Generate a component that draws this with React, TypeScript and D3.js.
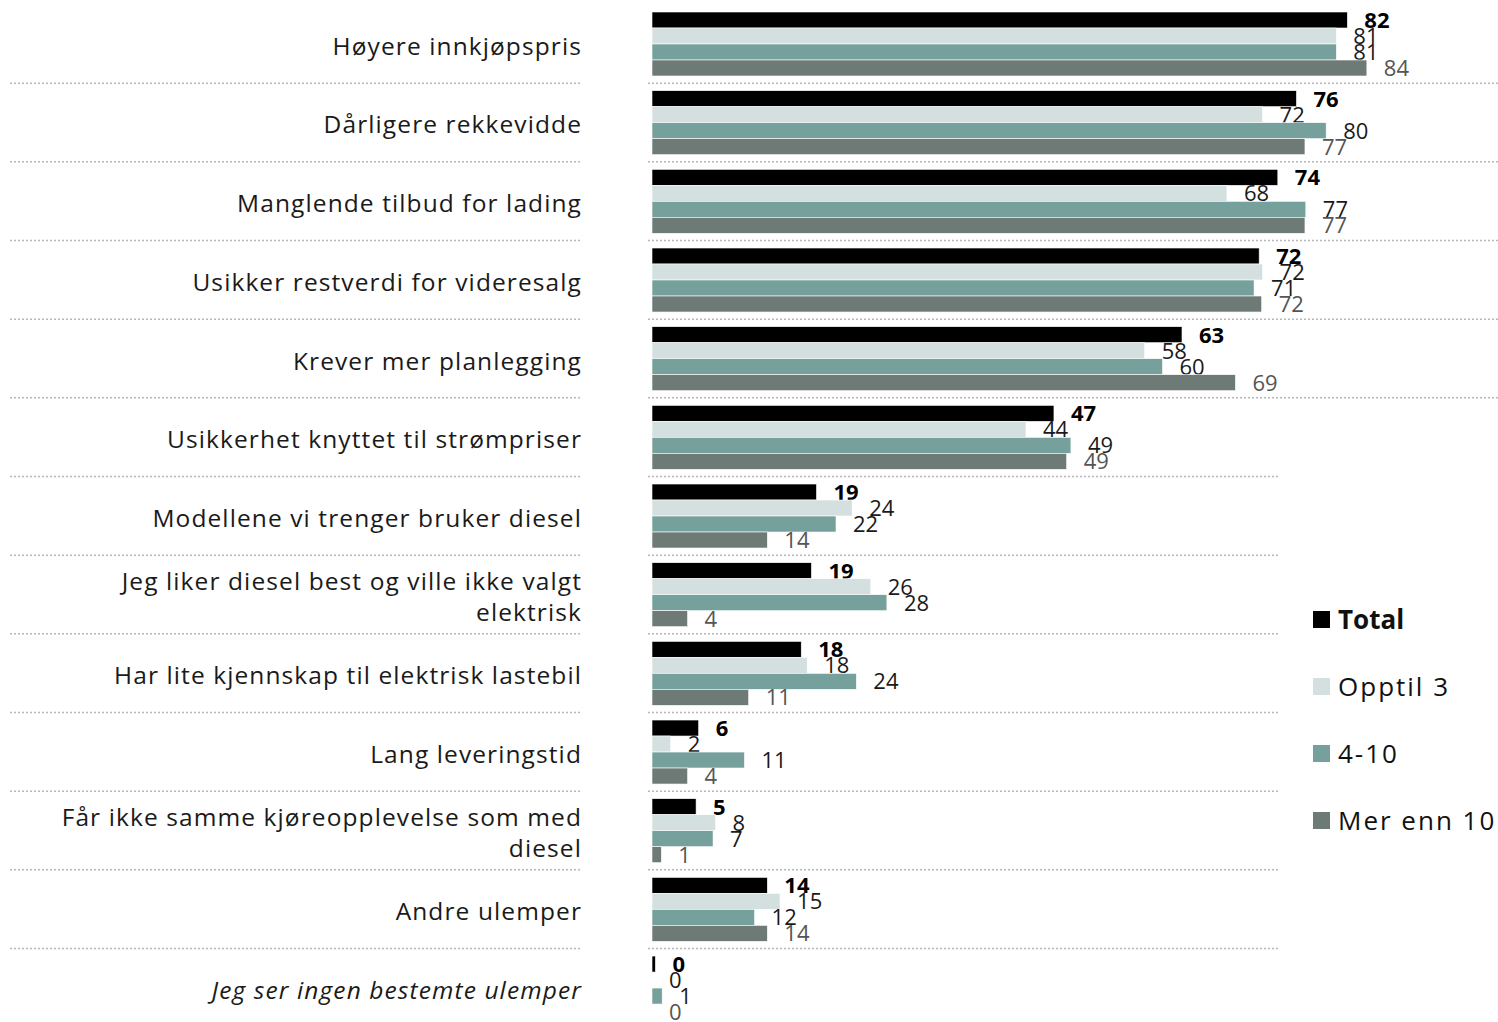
import React from "react";
import * as d3 from "d3";

const categories: string[][] = [
  ["Høyere innkjøpspris"],
  ["Dårligere rekkevidde"],
  ["Manglende tilbud for lading"],
  ["Usikker restverdi for videresalg"],
  ["Krever mer planlegging"],
  ["Usikkerhet knyttet til strømpriser"],
  ["Modellene vi trenger bruker diesel"],
  ["Jeg liker diesel best og ville ikke valgt", "elektrisk"],
  ["Har lite kjennskap til elektrisk lastebil"],
  ["Lang leveringstid"],
  ["Får ikke samme kjøreopplevelse som med", "diesel"],
  ["Andre ulemper"],
  ["Jeg ser ingen bestemte ulemper"],
];

const seriesNames = ["Total", "Opptil 3", "4-10", "Mer enn 10"];
const total = [82.0, 76.0, 73.8, 71.6, 62.5, 47.4, 19.4, 18.8, 17.6, 5.5, 5.2, 13.6, 0.4];
const opptil3 = [80.7, 72.0, 67.8, 72.0, 58.1, 44.1, 23.6, 25.8, 18.3, 2.2, 7.5, 15.1, 0];
const range4to10 = [80.7, 79.5, 77.1, 71.0, 60.2, 49.4, 21.7, 27.7, 24.1, 10.9, 7.2, 12.1, 1.2];
const merEnn10 = [84.3, 77.0, 77.0, 71.9, 68.8, 48.9, 13.6, 4.2, 11.4, 4.2, 1.1, 13.6, 0];

const seriesValues = [total, opptil3, range4to10, merEnn10];
const colors = ["#000000", "#d4dfdf", "#76a09b", "#6e7a76"];
const labelColors = ["#000000", "#1a1a1a", "#1a1a1a", "#555555"];
const FONT = "'Open Sans', 'DejaVu Sans', sans-serif";

export default function App() {
  const W = 1498;
  const H = 1022;
  const top = 12;
  const pitch = 78.67;
  const barH = 16;
  const x = d3.scaleLinear().domain([0, 100]).range([652, 1500]);
  const yGroup = d3
    .scaleBand<number>()
    .domain(d3.range(categories.length))
    .range([top, top + pitch * categories.length])
    .paddingInner(0)
    .paddingOuter(0);
  const ySeries = d3.scaleBand<number>().domain(d3.range(4)).range([0, barH * 4]);

  const seps = d3.range(1, categories.length).map((i) => (yGroup(i) as number) - 7.5);
  const legendTop = 470;
  const labelX = 582;

  return (
    <div style={{ position: "absolute", left: 0, top: 0 }}>
      <svg width={W} height={H} style={{ display: "block", background: "#fff" }}>
        {seps.map((y, i) => (
          <g key={"s" + i}>
            <line x1={10} x2={582} y1={y} y2={y} stroke="#b8b8b8" strokeWidth={1.5} strokeDasharray="2,2" />
            <line
              x1={648}
              x2={y > legendTop ? 1278 : W}
              y1={y}
              y2={y}
              stroke="#b8b8b8"
              strokeWidth={1.5}
              strokeDasharray="2,2"
            />
          </g>
        ))}
        {categories.map((lines, i) => {
          const cy = (yGroup(i) as number) + barH * 2 + 2;
          const lh = 31;
          const italic = i === categories.length - 1;
          return (
            <text
              key={"c" + i}
              x={labelX}
              textAnchor="end"
              fontFamily={FONT}
              fontSize={24.5}
              letterSpacing={1.1}
              fontStyle={italic ? "italic" : "normal"}
              fill="#1a1a1a"
            >
              {lines.map((l, j) => (
                <tspan key={j} x={labelX} y={cy + (j - (lines.length - 1) / 2) * lh} dy="0.36em">
                  {l}
                </tspan>
              ))}
            </text>
          );
        })}
        {categories.map((_, i) => (
          <g key={"g" + i} transform={`translate(0,${yGroup(i)})`}>
            {seriesValues.map((vals, s) => {
              const v = vals[i];
              const y0 = ySeries(s) as number;
              return (
                <g key={s}>
                  <rect
                    x={x(0)}
                    y={y0}
                    width={Math.max(0, x(v) - x(0))}
                    height={ySeries.bandwidth()}
                    fill={colors[s]}
                    stroke="#ffffff"
                    strokeWidth={0.6}
                  />
                  <text
                    x={x(v) + 17}
                    y={y0 + barH / 2}
                    dy="0.36em"
                    fontFamily={FONT}
                    fontSize={22}
                    fontWeight={s === 0 ? 700 : 400}
                    fill={labelColors[s]}
                  >
                    {Math.round(v)}
                  </text>
                </g>
              );
            })}
          </g>
        ))}
        {seriesNames.map((n, s) => {
          const cy = 620 + s * 67;
          return (
            <g key={"l" + s}>
              <rect x={1313} y={cy - 9} width={17} height={17} fill={colors[s]} />
              <text
                x={1338}
                y={cy}
                dy="0.36em"
                fontFamily={FONT}
                fontSize={26}
                letterSpacing={s === 0 ? 0 : 2}
                fontWeight={s === 0 ? 700 : 400}
                fill="#111"
              >
                {n}
              </text>
            </g>
          );
        })}
      </svg>
    </div>
  );
}
